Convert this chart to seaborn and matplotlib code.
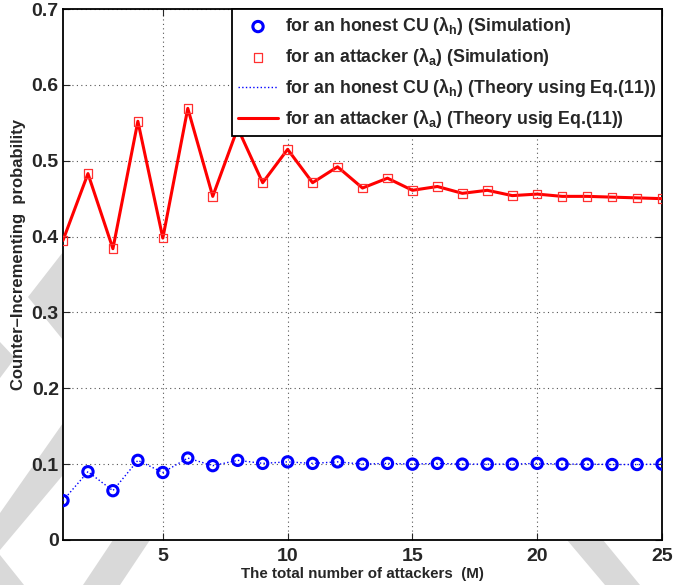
import numpy as np
import pandas as pd
import matplotlib
matplotlib.use("Agg")
import matplotlib.pyplot as plt
from matplotlib.patches import Polygon, Wedge
from matplotlib.transforms import Affine2D
import seaborn as sns

# ---- data ----
attackers = list(range(1, 26))
honest_sim = [0.052, 0.090, 0.065, 0.105, 0.089, 0.108, 0.098, 0.105, 0.101, 0.103,
              0.101, 0.103, 0.100, 0.101, 0.100, 0.101, 0.100, 0.100, 0.100, 0.101,
              0.100, 0.100, 0.0995, 0.0995, 0.100]
attacker_sim = [0.395, 0.483, 0.384, 0.552, 0.398, 0.569, 0.453, 0.543, 0.471, 0.515,
                0.471, 0.492, 0.464, 0.477, 0.461, 0.466, 0.457, 0.461, 0.454, 0.456,
                0.453, 0.453, 0.452, 0.451, 0.450]
honest_theory = [0.052, 0.090, 0.065, 0.105, 0.089, 0.108, 0.098, 0.105, 0.101, 0.103,
                 0.101, 0.103, 0.100, 0.101, 0.100, 0.101, 0.100, 0.100, 0.100, 0.101,
                 0.100, 0.100, 0.0995, 0.0995, 0.100]
attacker_theory = [0.395, 0.483, 0.384, 0.552, 0.398, 0.569, 0.453, 0.543, 0.471, 0.515,
                   0.471, 0.492, 0.464, 0.477, 0.461, 0.466, 0.457, 0.461, 0.454, 0.456,
                   0.453, 0.453, 0.452, 0.451, 0.450]
x_ticks = [5, 10, 15, 20, 25]
y_ticks = [0, 0.1, 0.2, 0.3, 0.4, 0.5, 0.6, 0.7]
y_tick_labels = ["0", "0.1", "0.2", "0.3", "0.4", "0.5", "0.6", "0.7"]

labels = [r"for an honest CU ($\lambda_h$) (Simulation)",
          r"for an attacker ($\lambda_a$) (Simulation)",
          r"for an honest CU ($\lambda_h$) (Theory using Eq.(11))",
          r"for an attacker ($\lambda_a$) (Theory usig Eq.(11))"]

df = pd.DataFrame({"M": attackers, "hs": honest_sim, "as": attacker_sim,
                   "ht": honest_theory, "at": attacker_theory})

sns.set_style("white")
plt.rcParams["font.family"] = ["Liberation Sans", "DejaVu Sans"]
plt.rcParams["font.weight"] = "bold"
plt.rcParams["mathtext.fontset"] = "custom"
plt.rcParams["mathtext.rm"] = "Liberation Sans:bold"
plt.rcParams["mathtext.it"] = "Liberation Sans:bold"
plt.rcParams["mathtext.bf"] = "Liberation Sans:bold"

W, H = 690, 585
fig = plt.figure(figsize=(W / 100, H / 100), dpi=100)
fig.patch.set_facecolor("white")

# ---- light-grey watermark pieces behind the axes (pixel coords, top-left origin) ----
wm = "#d9d9d9"
flip = Affine2D().scale(1, -1).translate(0, H) + Affine2D().scale(1.0 / W, 1.0 / H) + fig.transFigure
wm_polys = [
    [(63, 252), (28, 297), (63, 340)],
    [(0, 342), (15, 358), (0, 378)],
    [(63, 423), (63, 475), (0, 550), (0, 513)],
    [(0, 555), (24, 585), (0, 585)],
    [(113, 540), (150, 540), (120, 585), (83, 585)],
    [(567, 540), (603, 540), (640, 585), (605, 585)],
]
for pts in wm_polys:
    fig.add_artist(Polygon(pts, closed=True, facecolor=wm, edgecolor="none",
                           transform=flip, zorder=0))
fig.add_artist(Wedge((478, 625), 100, 40, 150, width=34, facecolor=wm,
                     edgecolor="none", transform=flip, zorder=0))

ax = fig.add_axes([63 / W, 45 / H, 599 / W, 531 / H])
ax.set_facecolor("white")
ax.set_zorder(1)

sns.scatterplot(data=df, x="M", y="hs", ax=ax, marker="o", s=55,
                facecolor="none", edgecolor="#0000ff", linewidth=2.2,
                label=labels[0], zorder=4)
sns.scatterplot(data=df, x="M", y="as", ax=ax, marker="s", s=38,
                facecolor="none", edgecolor="#ff3030", linewidth=0.9,
                label=labels[1], zorder=4)
sns.lineplot(data=df, x="M", y="ht", ax=ax, color="#0000ff", linestyle=":",
             linewidth=1.0, label=labels[2], zorder=3)
sns.lineplot(data=df, x="M", y="at", ax=ax, color="#ff0000", linestyle="-",
             linewidth=2.2, label=labels[3], zorder=3)

ax.set_xlim(1, 25)
ax.set_ylim(0, 0.7)
ax.set_xticks(x_ticks)
ax.set_yticks(y_ticks)
ax.set_yticklabels(y_tick_labels)
ax.tick_params(axis="both", direction="in", length=5, width=0.8, labelsize=14,
               top=True, right=True, bottom=True, left=True)
ax.tick_params(axis="y", pad=3)
ax.tick_params(axis="x", pad=6)
for lab in ax.get_xticklabels() + ax.get_yticklabels():
    lab.set_fontweight("bold")

ax.grid(True, linestyle=(0, (1, 3)), color="#555555", linewidth=0.8)
for sp in ax.spines.values():
    sp.set_visible(True)
    sp.set_color("black")
    sp.set_linewidth(1.3)

ax.set_xlabel("The total number of attackers  (M)", fontsize=10.9, fontweight="bold", labelpad=1)
ax.set_ylabel("Counter\u2013Incrementing  probability", fontsize=12.0, fontweight="bold")
ax.yaxis.set_label_coords(-0.062, 0.537)

leg = ax.legend(loc="upper right", fontsize=12.8, frameon=True, fancybox=False,
                borderaxespad=0, handlelength=2.2, handletextpad=0.4,
                labelspacing=0.5, borderpad=0.35)
leg.get_frame().set_edgecolor("black")
leg.get_frame().set_linewidth(1.3)
leg.get_frame().set_alpha(1)
for t in leg.get_texts():
    t.set_fontweight("bold")

fig.savefig("out.png", dpi=100, facecolor="white")
